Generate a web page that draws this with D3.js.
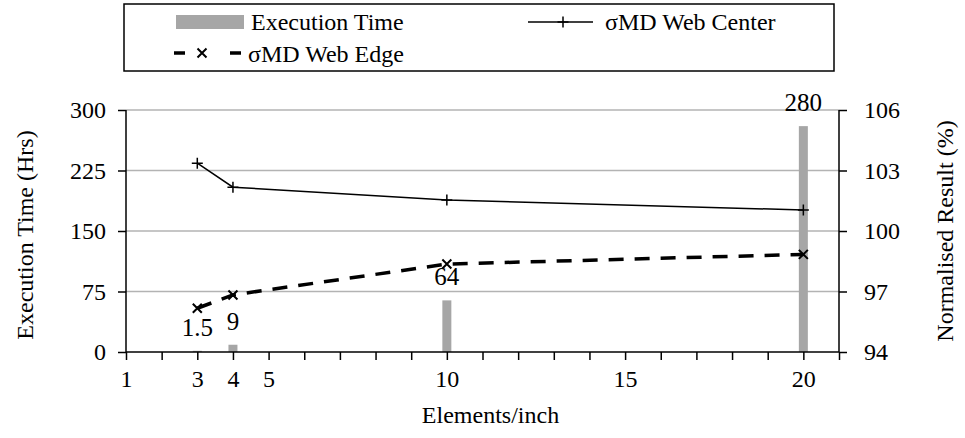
<!DOCTYPE html>
<html>
<head>
    <meta charset="UTF-8">
    <script src="https://d3js.org/d3.v7.min.js"></script>
</head>
<body style="margin:0">
    <svg id="chart" width="965" height="438"></svg>

    <script>
        // data
        const elements = [3, 4, 10, 20];
        const execTime = [1.5, 9, 64, 280];
        const webCenter = [103.36, 102.17, 101.54, 101.04];
        const webEdge = [96.17, 96.83, 98.36, 98.84];
        const xTickLabels = [1, 3, 4, 5, 10, 15, 20];
        const leftTicks = [0, 75, 150, 225, 300];
        const rightTicks = [94, 97, 100, 103, 106];

        const svg = d3.select("#chart");
        const plotLeft = 126, plotRight = 839, plotTop = 110, plotBottom = 352;
        const serif = "Liberation Serif";

        const x = d3.scaleLinear().domain([1, 21]).range([plotLeft, plotRight]);
        const yLeft = d3.scaleLinear().domain([0, 300]).range([plotBottom, plotTop]);
        const yRight = d3.scaleLinear().domain([94, 106]).range([plotBottom, plotTop]);

        // helper so every label gets the serif face
        function label(sel, size) {
            return sel.attr("font-family", serif)
                .style("font-family", serif)
                .attr("font-size", size)
                .attr("fill", "#000");
        }

        // gridlines
        svg.append("g")
            .selectAll("line")
            .data(leftTicks.filter(d => d > 0))
            .enter()
            .append("line")
            .attr("x1", plotLeft).attr("x2", plotRight)
            .attr("y1", d => yLeft(d)).attr("y2", d => yLeft(d))
            .attr("stroke", "#b3b3b3")
            .attr("stroke-width", 1.5);

        // bars
        const barW = 9;
        svg.append("g")
            .selectAll("rect")
            .data(elements)
            .enter()
            .append("rect")
            .attr("x", d => x(d) - barW / 2)
            .attr("width", barW)
            .attr("y", (d, i) => yLeft(execTime[i]))
            .attr("height", (d, i) => plotBottom - yLeft(execTime[i]))
            .attr("fill", "#a6a6a6");

        // axes
        function styleAxis(g) {
            g.selectAll("path, line").attr("stroke", "#000").attr("stroke-width", 1.5);
            label(g.selectAll("text"), 24);
        }

        const xAxis = d3.axisBottom(x)
            .tickValues(d3.range(1, 22))
            .tickSize(8)
            .tickPadding(10)
            .tickFormat(d => xTickLabels.includes(d) ? d : "");
        svg.append("g")
            .attr("transform", `translate(0,${plotBottom})`)
            .call(xAxis)
            .call(g => g.select(".domain").attr("d", `M${plotLeft},0H${plotRight}`))
            .call(styleAxis);

        svg.append("g")
            .attr("transform", `translate(${plotLeft},0)`)
            .call(d3.axisLeft(yLeft).tickValues(leftTicks).tickSize(8).tickPadding(12))
            .call(g => g.select(".domain").attr("d", `M0,${plotTop}V${plotBottom}`))
            .call(styleAxis);

        svg.append("g")
            .attr("transform", `translate(${plotRight},0)`)
            .call(d3.axisRight(yRight).tickValues(rightTicks).tickSize(8).tickPadding(17))
            .call(g => g.select(".domain").attr("d", `M0,${plotTop}V${plotBottom}`))
            .call(styleAxis);

        // axis titles
        label(svg.append("text"), 24)
            .attr("transform", `translate(33,${(plotTop + plotBottom) / 2 + 4}) rotate(-90)`)
            .attr("text-anchor", "middle")
            .text("Execution Time (Hrs)");

        label(svg.append("text"), 24)
            .attr("transform", `translate(953,${(plotTop + plotBottom) / 2}) rotate(-90)`)
            .attr("text-anchor", "middle")
            .text("Normalised Result (%)");

        label(svg.append("text"), 24)
            .attr("x", (plotLeft + plotRight) / 2 + 8)
            .attr("y", 423)
            .attr("text-anchor", "middle")
            .text("Elements/inch");

        // lines
        const seriesLine = d3.line()
            .x((d, i) => x(elements[i]))
            .y(d => yRight(d));

        svg.append("path")
            .datum(webCenter)
            .attr("d", seriesLine)
            .attr("fill", "none")
            .attr("stroke", "#000")
            .attr("stroke-width", 1.5);

        svg.append("path")
            .datum(webEdge)
            .attr("d", seriesLine)
            .attr("fill", "none")
            .attr("stroke", "#000")
            .attr("stroke-width", 3.5)
            .attr("stroke-dasharray", "15,11");

        const plus = s => `M${-s},0H${s}M0,${-s}V${s}`;
        const cross = s => `M${-s},${-s}L${s},${s}M${-s},${s}L${s},${-s}`;

        svg.append("g")
            .selectAll("path")
            .data(webCenter)
            .enter()
            .append("path")
            .attr("transform", (d, i) => `translate(${x(elements[i])},${yRight(d)})`)
            .attr("d", plus(5.5))
            .attr("stroke", "#000")
            .attr("stroke-width", 1.5);

        svg.append("g")
            .selectAll("path")
            .data(webEdge)
            .enter()
            .append("path")
            .attr("transform", (d, i) => `translate(${x(elements[i])},${yRight(d)})`)
            .attr("d", cross(4.5))
            .attr("stroke", "#000")
            .attr("stroke-width", 2);

        // bar value labels
        label(svg.append("g")
            .selectAll("text")
            .data(execTime)
            .enter()
            .append("text"), 25)
            .attr("x", (d, i) => x(elements[i]))
            .attr("y", d => yLeft(d) - 15)
            .attr("text-anchor", "middle")
            .text(d => d);

        // legend
        const legend = svg.append("g");
        legend.append("rect")
            .attr("x", 124).attr("y", 4)
            .attr("width", 710).attr("height", 67)
            .attr("fill", "#fff")
            .attr("stroke", "#000")
            .attr("stroke-width", 1.5);

        legend.append("rect")
            .attr("x", 176).attr("y", 15)
            .attr("width", 68).attr("height", 14)
            .attr("fill", "#a6a6a6");
        label(legend.append("text"), 24)
            .attr("x", 251).attr("y", 30)
            .text("Execution Time");

        legend.append("line")
            .attr("x1", 528).attr("x2", 593)
            .attr("y1", 22).attr("y2", 22)
            .attr("stroke", "#000").attr("stroke-width", 1.5);
        legend.append("path")
            .attr("transform", "translate(563,22)")
            .attr("d", plus(5.5))
            .attr("stroke", "#000").attr("stroke-width", 1.5);
        label(legend.append("text"), 24)
            .attr("x", 605).attr("y", 30)
            .text("σMD Web Center");

        legend.append("line")
            .attr("x1", 174).attr("x2", 241)
            .attr("y1", 53).attr("y2", 53)
            .attr("stroke", "#000").attr("stroke-width", 3.5)
            .attr("stroke-dasharray", "11,45,11");
        legend.append("path")
            .attr("transform", "translate(202,53)")
            .attr("d", cross(4.5))
            .attr("stroke", "#000").attr("stroke-width", 2);
        label(legend.append("text"), 24)
            .attr("x", 248).attr("y", 62)
            .text("σMD Web Edge");
    </script>
</body>
</html>
